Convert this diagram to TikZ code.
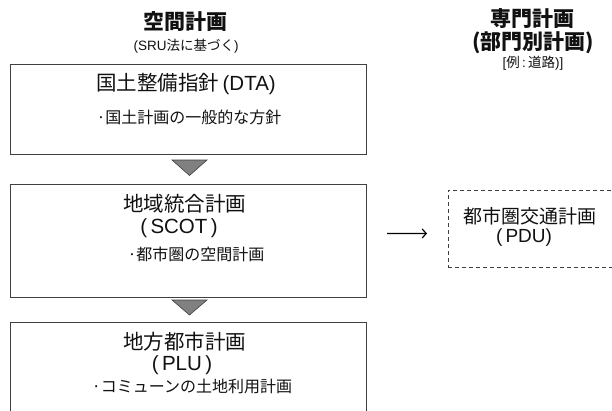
\documentclass[tikz,border=0pt]{standalone}
\usepackage{fontspec}
\setmainfont{Noto Sans CJK JP}
\newfontfamily\lat{Liberation Sans}
\usetikzlibrary{arrows.meta}
\definecolor{linec}{HTML}{404040}
\definecolor{trifill}{HTML}{808080}
\definecolor{txt}{HTML}{111111}
\begin{document}
\begin{tikzpicture}[x=1pt,y=-1pt,
  planbox/.style={draw=linec, line width=1.1pt, anchor=north west, inner sep=0pt, minimum width=356pt},
  dashbox/.style={draw=linec, line width=0.9pt, dash pattern=on 4pt off 3pt, anchor=north west, inner sep=0pt, minimum width=260pt, minimum height=77pt},
  tri/.style={draw=linec, fill=trifill, line width=0.6pt},
  lbl/.style={inner sep=0pt, text=txt, anchor=center},
  big/.style={lbl, font=\fontsize{20.5}{22}\selectfont},
  sub/.style={lbl, font=\fontsize{16}{18}\selectfont},
  head/.style={lbl, font=\bfseries\fontsize{21}{23}\selectfont},
  small/.style={lbl, font=\fontsize{13.5}{15}\selectfont},
  arr/.style={draw=black, line width=1.2pt, -{Straight Barb[length=4pt,width=9pt]}}
]
\useasboundingbox (0,0) rectangle (612,410);
\clip (0,0) rectangle (612,410);
\fill[white] (0,0) rectangle (612,410);

% headers
\node[head] (h1) at (185,22) {空間計画};
\node[small] (h1s) at (186,46) {{\lat(SRU}法に基づく{\lat)}};
\node[head] (h2) at (532,19) {専門計画};
\node[head] (h2b) at (533,43) {(部門別計画)};
\node[small] (h2s) at (533,63.5) {{\lat[}例{\lat\,:\,}道路{\lat)]}};

% boxes
\node[planbox, minimum height=90pt] (b1) at (10,64) {};
\node[planbox, minimum height=113pt] (b2) at (10,184) {};
\node[planbox, minimum height=120pt] (b3) at (10,322) {};
\node[dashbox] (pdu) at (448,190) {};

% triangles
\draw[tri] (172,160) -- (207,160) -- (189.5,175.5) -- cycle;
\draw[tri] (172,300) -- (207,300) -- (189.5,315) -- cycle;

% box 1 text
\node[big] (t1a) at (186,84) {国土整備指針{\lat\,(DTA)}};
\node[sub] (t1b) at (189,117) {·国土計画の一般的な方針};

% box 2 text
\node[big] (t2a) at (184.5,204) {地域統合計画};
\node[big] (t2b) at (179,228) {\lat(\,SCOT\,)};
\node[sub] (t2c) at (196,254.5) {·都市圏の空間計画};

% box 3 text
\node[big] (t3a) at (184.5,342) {地方都市計画};
\node[big] (t3b) at (182,365) {\lat(\,PLU\,)};
\node[sub] (t3c) at (192,386) {·コミューンの土地利用計画};

% dashed box text
\node[lbl, font=\fontsize{19}{21}\selectfont] (t4a) at (530,216) {都市圏交通計画};
\node[lbl, font=\fontsize{19}{21}\selectfont] (t4b) at (524,237.5) {\lat(\,PDU)};

% arrow
\draw[arr, shorten <=20pt, shorten >=21pt] ([yshift=7.5pt]b2.east) -- ([yshift=-4.5pt]pdu.west);
\end{tikzpicture}
\end{document}
